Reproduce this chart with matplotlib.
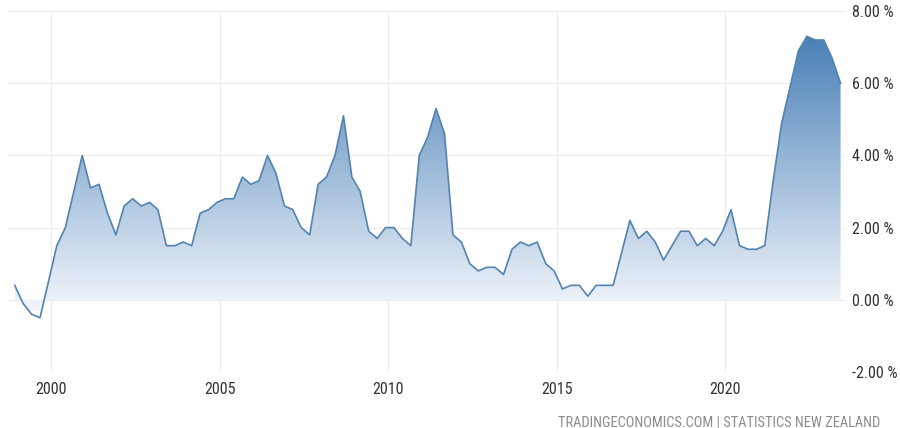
import numpy as np
import matplotlib
matplotlib.use("Agg")
import matplotlib.pyplot as plt
import matplotlib.dates as mdates
from matplotlib import font_manager
from matplotlib.colors import LinearSegmentedColormap
from matplotlib.patches import PathPatch
from matplotlib.path import Path
import pandas as pd

# Quarterly annual inflation rate (%), Dec 1998 .. Jun 2023
start_date = "1998-12-01"
end_date = "2023-06-01"
inflation = [
    0.4, -0.1, -0.4, -0.5,
    0.5, 1.5, 2.0, 3.0,
    4.0, 3.1, 3.2, 2.4,
    1.8, 2.6, 2.8, 2.6,
    2.7, 2.5, 1.5, 1.5,
    1.6, 1.5, 2.4, 2.5,
    2.7, 2.8, 2.8, 3.4,
    3.2, 3.3, 4.0, 3.5,
    2.6, 2.5, 2.0, 1.8,
    3.2, 3.4, 4.0, 5.1,
    3.4, 3.0, 1.9, 1.7,
    2.0, 2.0, 1.7, 1.5,
    4.0, 4.5, 5.3, 4.6,
    1.8, 1.6, 1.0, 0.8,
    0.9, 0.9, 0.7, 1.4,
    1.6, 1.5, 1.6, 1.0,
    0.8, 0.3, 0.4, 0.4,
    0.1, 0.4, 0.4, 0.4,
    1.3, 2.2, 1.7, 1.9,
    1.6, 1.1, 1.5, 1.9,
    1.9, 1.5, 1.7, 1.5,
    1.9, 2.5, 1.5, 1.4,
    1.4, 1.5, 3.3, 4.9,
    5.9, 6.9, 7.3, 7.2,
    7.2, 6.7, 6.0,
]
y_ticks = [-2, 0, 2, 4, 6, 8]
x_years = [2000, 2005, 2010, 2015, 2020]
source_text = "TRADINGECONOMICS.COM | STATISTICS NEW ZEALAND"

# pick a narrow font if one is installed
installed = {f.name for f in font_manager.fontManager.ttflist}
font = "DejaVu Sans"
for cand in ["Liberation Sans Narrow", "Roboto Condensed", "Open Sans Condensed",
             "DejaVu Sans Condensed", "Noto Sans Condensed"]:
    if cand in installed:
        font = cand
        break

dates = pd.date_range(start=start_date, end=end_date, freq="3MS")
x = mdates.date2num(dates)
y = np.array(inflation)

fig = plt.figure(figsize=(9, 4.28), dpi=100)
ax = fig.add_axes([0.009, 0.131, 0.93, 0.843])

xmin = mdates.date2num(pd.Timestamp("1998-09-20"))
xmax = mdates.date2num(pd.Timestamp("2023-07-20"))
ax.set_xlim(xmin, xmax)
ax.set_ylim(-2, 8)

# gradient fill under the line
cmap = LinearSegmentedColormap.from_list("te", ["#f3f6fb", "#9fbcda", "#4a80b6"])
grad = np.linspace(0, 1, 256).reshape(-1, 1)
img = ax.imshow(grad, cmap=cmap, aspect="auto", origin="lower",
                extent=[x[0], x[-1], -0.3, y.max()], zorder=1)
verts = [(x[0], 0)] + list(zip(x, y)) + [(x[-1], 0), (x[0], 0)]
clip = PathPatch(Path(verts, closed=True), transform=ax.transData,
                 facecolor="none", edgecolor="none")
ax.add_patch(clip)
img.set_clip_path(clip)

ax.plot(x, y, color="#5383b0", linewidth=1.2, zorder=3)

# grid
ax.set_yticks(y_ticks)
ax.set_xticks([mdates.date2num(pd.Timestamp(f"{yr}-01-01")) for yr in x_years])
ax.set_xticklabels([str(yr) for yr in x_years])
ax.set_yticklabels([f"{v:.2f} %" for v in y_ticks])
ax.grid(True, color="#ececec", linewidth=0.8, zorder=0)
ax.set_axisbelow(True)
for s in ax.spines.values():
    s.set_visible(False)

ax.yaxis.tick_right()
ax.tick_params(axis="both", length=0, colors="#333333")
ax.tick_params(axis="y", pad=5)
ax.tick_params(axis="x", pad=7)

src = fig.text(0.978, 0.014, source_text, ha="right", va="center",
               fontsize=10.5, color="#8c8c8c", family=font)

# size the texts to the widths seen on the chart
fig.canvas.draw()
r = fig.canvas.get_renderer()
w = src.get_window_extent(r).width
src.set_fontsize(10.5 * 322 / w)

probe = fig.text(0, 0, "8.00 %", fontsize=10.5, family=font)
tick_size = 10.5 * 42 / probe.get_window_extent(r).width
probe.remove()
for lab in ax.get_xticklabels() + ax.get_yticklabels():
    lab.set_family(font)
    lab.set_fontsize(tick_size)

fig.savefig("out.png", dpi=100)
